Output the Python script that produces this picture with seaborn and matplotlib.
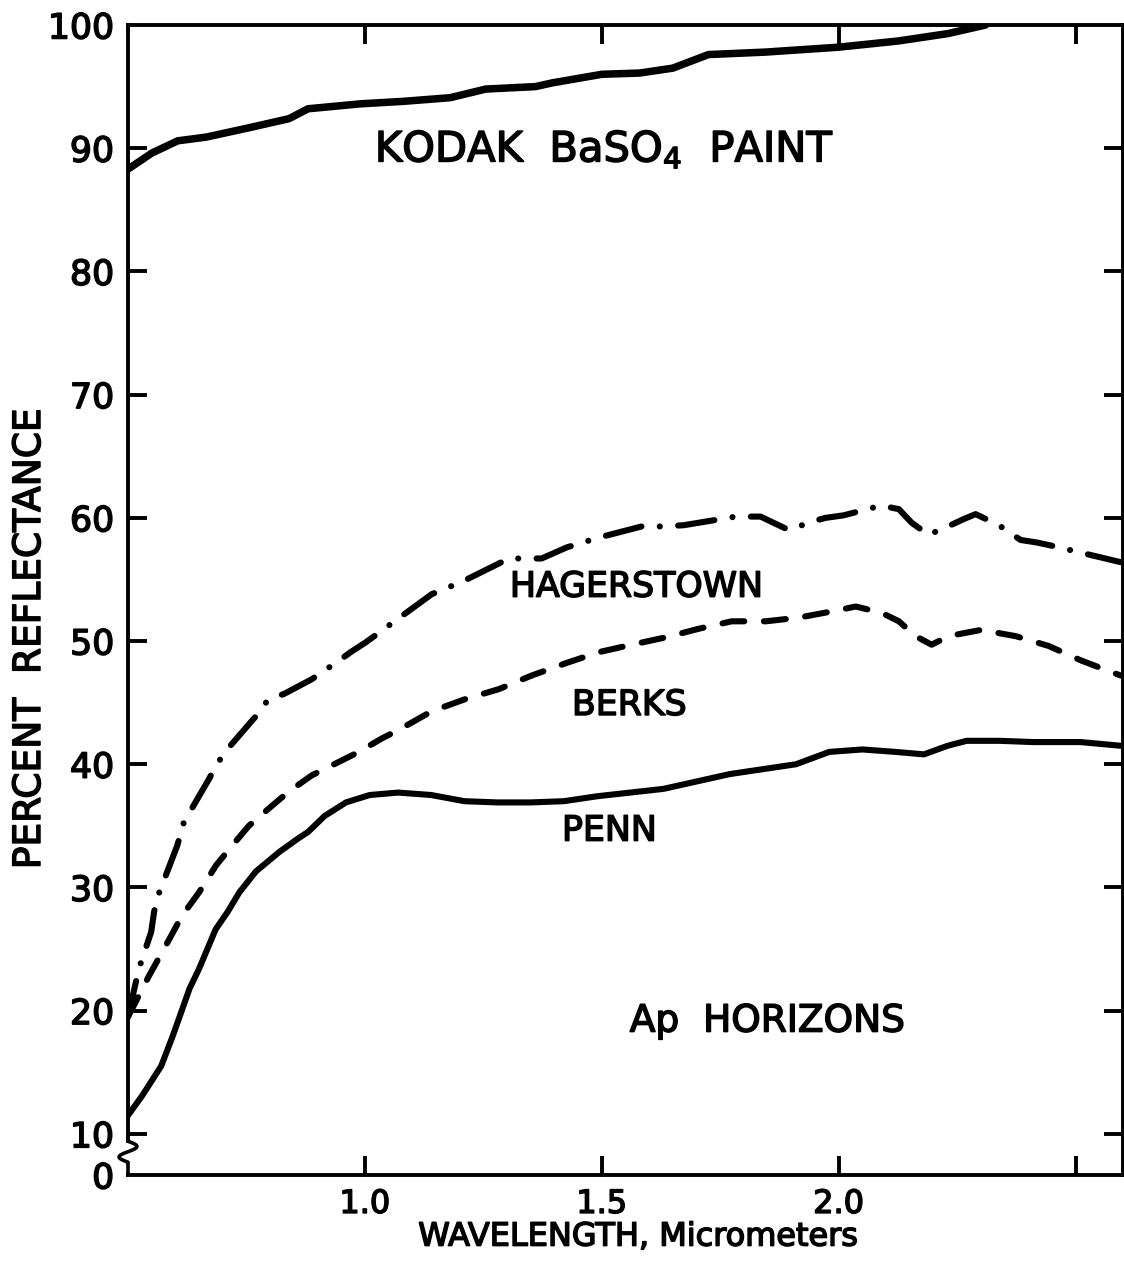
import numpy as np
import pandas as pd
import matplotlib
matplotlib.use("Agg")
import matplotlib.pyplot as plt
import matplotlib.patheffects as pe
import seaborn as sns

# ---------------- data ----------------
kodak_wl = [0.50, 0.55, 0.605, 0.665, 0.76, 0.84, 0.88, 0.99, 1.08, 1.18, 1.255,
            1.36, 1.395, 1.50, 1.58, 1.65, 1.725, 1.845, 2.00, 2.125, 2.23, 2.31]
kodak_r = [88.3, 89.6, 90.6, 90.9, 91.7, 92.4, 93.2, 93.6, 93.8, 94.1, 94.8,
           95.0, 95.3, 96.0, 96.1, 96.5, 97.6, 97.8, 98.2, 98.7, 99.3, 100.0]

hag_wl = [0.50, 0.523, 0.549, 0.555, 0.561, 0.604, 0.612, 0.618, 0.671, 0.686,
          0.707, 0.77, 0.797, 0.829, 0.888, 0.945, 0.97, 1.002, 1.141, 1.173,
          1.215, 1.304, 1.373, 1.426, 1.494, 1.584, 1.63, 1.673, 1.783, 1.835,
          1.895, 1.943, 1.973, 2.01, 2.09, 2.127, 2.154, 2.19, 2.211, 2.236,
          2.264, 2.289, 2.338, 2.384, 2.418, 2.454, 2.595]
hag_r = [19.5, 23.4, 26.4, 28.0, 29.1, 33.4, 34.5, 35.3, 38.8, 39.9,
         41.1, 43.9, 45.3, 45.7, 46.9, 48.4, 49.1, 49.9, 53.8, 54.3,
         55.0, 56.7, 56.7, 57.6, 58.4, 59.3, 59.3, 59.4, 60.1, 60.1,
         59.0, 59.7, 60.0, 60.2, 61.0, 60.7, 59.6, 58.6, 59.0, 59.4,
         59.9, 60.3, 59.4, 58.2, 58.0, 57.7, 56.4]

berks_wl = [0.50, 0.544, 0.58, 0.614, 0.65, 0.686, 0.72, 0.755, 0.797, 0.84,
            0.888, 0.93, 0.987, 1.036, 1.072, 1.141, 1.213, 1.283, 1.352, 1.424,
            1.494, 1.563, 1.635, 1.705, 1.774, 1.846, 1.916, 1.985, 2.036, 2.09,
            2.127, 2.162, 2.196, 2.232, 2.30, 2.373, 2.443, 2.513, 2.595]
berks_r = [19.5, 22.8, 25.3, 27.7, 29.6, 31.8, 33.4, 35.0, 36.4, 37.8,
           39.1, 39.9, 41.0, 42.1, 42.8, 44.3, 45.3, 46.1, 47.2, 48.2,
           49.1, 49.7, 50.3, 51.0, 51.6, 51.6, 51.9, 52.4, 52.8, 52.3,
           51.6, 50.4, 49.7, 50.4, 50.9, 50.4, 49.6, 48.4, 47.2]

penn_wl = [0.50, 0.53, 0.57, 0.595, 0.63, 0.65, 0.685, 0.71, 0.735, 0.77,
           0.82, 0.86, 0.88, 0.915, 0.96, 1.01, 1.07, 1.14, 1.21, 1.28,
           1.35, 1.42, 1.49, 1.63, 1.77, 1.91, 1.98, 2.05, 2.12, 2.18,
           2.23, 2.27, 2.34, 2.41, 2.51, 2.595]
penn_r = [11.5, 13.1, 15.5, 18.0, 21.8, 23.4, 26.6, 28.0, 29.6, 31.3,
          32.9, 34.0, 34.5, 35.8, 36.9, 37.5, 37.7, 37.5, 37.0, 36.9,
          36.9, 37.0, 37.4, 38.0, 39.2, 40.0, 41.0, 41.2, 41.0, 40.8,
          41.5, 41.9, 41.9, 41.8, 41.8, 41.5]

x_ticks = [1.0, 1.5, 2.0, 2.5]
x_tick_labels = ["1.0", "1.5", "2.0", ""]
y_ticks = [10, 20, 30, 40, 50, 60, 70, 80, 90]
y_tick_labels = ["10", "20", "30", "40", "50", "60", "70", "80", "90"]

# ---------------- styling ----------------
sns.set_theme(style="white")
plt.rcParams["font.family"] = ["DejaVu Sans"]
plt.rcParams["mathtext.fontset"] = "dejavusans"
for key in ["text.color", "axes.labelcolor", "xtick.color", "ytick.color", "axes.edgecolor"]:
    plt.rcParams[key] = "black"

heavy = [pe.withStroke(linewidth=1.1, foreground="black")]

W, H = 1124, 1275
fig = plt.figure(figsize=(W / 100, H / 100), dpi=100)
fig.patch.set_facecolor("white")
ax = fig.add_axes([128 / W, 1 - 1175 / H, 995 / W, 1150 / H])
ax.set_facecolor("white")

YMIN = 6.66  # broken axis: bottom edge is labelled "0"
ax.set_xlim(0.5, 2.6)
ax.set_ylim(YMIN, 100)

series = [
    (kodak_wl, kodak_r, "-", 5.4),
    (hag_wl, hag_r, (0, (6.0, 3.0, 0.01, 3.0)), 4.4),
    (berks_wl, berks_r, (0, (3.6, 3.2)), 4.4),
    (penn_wl, penn_r, "-", 4.4),
]
for wl, r, ls, lw in series:
    df = pd.DataFrame({"wl": wl, "r": r})
    sns.lineplot(data=df, x="wl", y="r", ax=ax, color="black", lw=lw,
                 linestyle=ls, estimator=None, sort=False,
                 dash_capstyle="round", solid_capstyle="round",
                 solid_joinstyle="round")

# spines
for s in ax.spines.values():
    s.set_visible(True)
    s.set_color("black")
    s.set_linewidth(2.8)
ax.spines["left"].set_bounds(9.4, 100)

# axis break squiggle on the left spine
t = np.linspace(0, 1, 40)
sq_y = np.concatenate([9.4 - t * (9.4 - 7.7), [YMIN]])
sq_x = np.concatenate([0.009 * np.sin(2 * np.pi * t), [0.0]])
ax.plot(sq_x, sq_y, transform=ax.get_yaxis_transform(), color="black",
        lw=2.6, clip_on=False, solid_capstyle="round", solid_joinstyle="round")

# ticks
ax.set_xticks(x_ticks)
ax.set_xticklabels(x_tick_labels)
ax.set_yticks(y_ticks)
ax.set_yticklabels(y_tick_labels)
ax.set_yticks([YMIN, 100], minor=True)
ax.set_yticklabels(["0", "100"], minor=True)
ax.tick_params(axis="both", which="major", direction="in", length=14, width=2.8,
               top=True, right=True, bottom=True, left=True, colors="black")
ax.tick_params(axis="y", which="minor", length=0, left=True, labelsize=25, pad=10,
               labelcolor="black")
ax.tick_params(axis="y", which="major", labelsize=25, pad=10)
ax.tick_params(axis="x", which="major", labelsize=23, pad=10)
for lab in ax.get_xticklabels() + ax.get_yticklabels() + ax.get_yticklabels(minor=True):
    lab.set_path_effects(heavy)

# axis labels
ax.set_xlabel("WAVELENGTH, Micrometers", fontsize=23, va="center",
              path_effects=heavy)
ax.xaxis.set_label_coords(0.513, -0.054)
ax.set_ylabel("PERCENT  REFLECTANCE", fontsize=27, va="center",
              path_effects=heavy)
ax.yaxis.set_label_coords(-0.0985, 0.466)

# curve annotations
ax.text(1.021, 88.9, "KODAK  BaSO$_4$  PAINT", fontsize=30, ha="left",
        va="baseline", path_effects=heavy)
ax.text(1.306, 53.6, "HAGERSTOWN", fontsize=25, ha="left", va="baseline",
        path_effects=heavy)
ax.text(1.437, 44.0, "BERKS", fontsize=25, ha="left", va="baseline",
        path_effects=heavy)
ax.text(1.416, 33.8, "PENN", fontsize=25, ha="left", va="baseline",
        path_effects=heavy)
ax.text(1.559, 18.3, "Ap  HORIZONS", fontsize=27, ha="left", va="baseline",
        path_effects=heavy)

fig.savefig("out.png", dpi=100, facecolor="white")
